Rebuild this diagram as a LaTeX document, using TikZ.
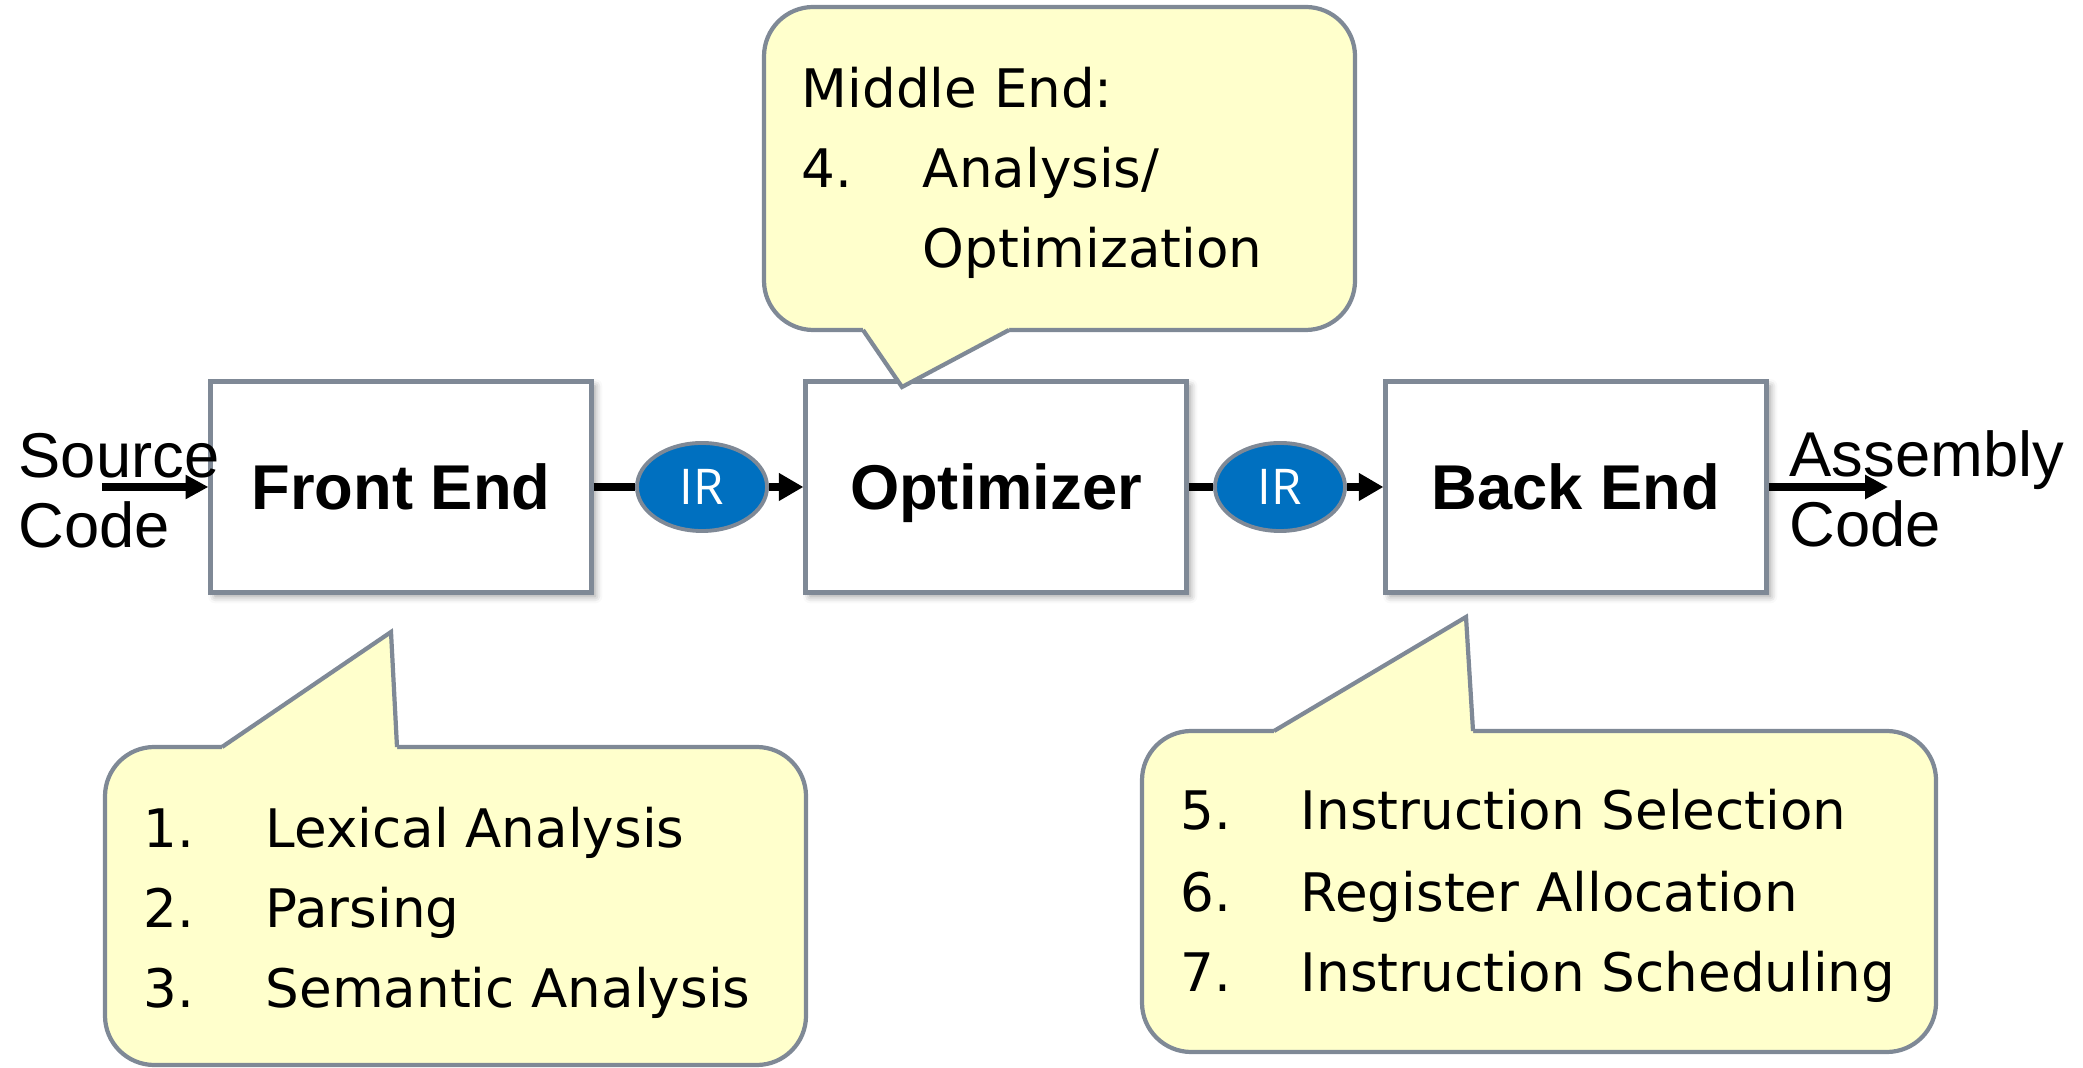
\documentclass[tikz,border=0pt]{standalone}
\usepackage{fontspec}
\setmainfont{DejaVu Sans}
\newfontfamily\labelfont{Liberation Sans}
\newfontfamily\irfont{Open Sans}
\usetikzlibrary{arrows.meta,shapes.geometric,shadows.blur}
\definecolor{edgegray}{RGB}{127,137,150}
\definecolor{noteyellow}{RGB}{255,255,204}
\definecolor{irblue}{RGB}{0,112,192}
\begin{document}
\begin{tikzpicture}[x=0.01cm,y=-0.01cm,
  stage/.style={draw=edgegray, line width=1.4pt, fill=white,
    minimum width=3.8cm, minimum height=2.1cm, inner sep=0pt, text depth=0pt,
    font=\labelfont\bfseries\fontsize{18}{21}\selectfont,
    blur shadow={shadow xshift=1.2pt, shadow yshift=-1.2pt,
      shadow blur radius=2pt, shadow opacity=40}},
  irnode/.style={ellipse, draw=edgegray, line width=1.1pt, fill=irblue,
    text=white, minimum width=1.3cm, minimum height=0.88cm, inner sep=0pt,
    font=\irfont\fontsize{14}{16}\selectfont},
  flow/.style={line width=2pt},
  flowarrow/.style={line width=2pt, -{Triangle[length=7pt,width=7.5pt]}},
  callout/.style={draw=edgegray, line width=1.2pt, fill=noteyellow,
    rounded corners=14pt},
  pointerfill/.style={fill=noteyellow},
  pointeredge/.style={draw=edgegray, line width=1.2pt, line join=miter},
  notetext/.style={anchor=base west, inner sep=0pt,
    font=\fontsize{15.1}{18}\selectfont},
  iotext/.style={anchor=base west, inner sep=0pt,
    font=\labelfont\fontsize{18}{21}\selectfont},
]
\useasboundingbox (0,0) rectangle (2083,1068);

% pipeline stages
\node[stage] (fe)  at (401,487)  {Front End};
\node[stage] (opt) at (996,487)  {Optimizer};
\node[stage] (be)  at (1576,487) {Back End};

% intermediate representations
\node[irnode] (ir1) at (702,487)  {IR};
\node[irnode] (ir2) at (1280,487) {IR};

% input and output labels
\node[iotext] (src1) at (18,478)   {Source};
\node[iotext] (src2) at (18,548)   {Code};
\node[iotext] (asm1) at (1789,477) {Assembly};
\node[iotext] (asm2) at (1789,547) {Code};

\coordinate (srcstart) at (102,487);
\coordinate (asmend) at (1888,487);

% connectors
\draw[flow,-{Triangle[length=6.5pt,width=6.5pt]}] (srcstart) -- (fe.west);
\draw[flow] (fe.east) -- (ir1.west);
\draw[flowarrow] (ir1.east) -- (opt.west);
\draw[flow] (opt.east) -- (ir2.west);
\draw[flowarrow] (ir2.east) -- (be.west);
\draw[flow,-{Triangle[length=6.5pt,width=6.5pt]}] (be.east) -- (asmend);

% middle-end callout: rounded body, then the pointer laid over its lower edge
\draw[callout] (764,7) rectangle (1355,330);
\fill[pointerfill] (863,325) -- (1009,325) -- (1009,330) -- (902,387)
  -- (863,330) -- cycle;
\draw[pointeredge] (863,330) -- (902,387) -- (1009,330);
\node[notetext] (mid0) at (801,108) {Middle End:};
\node[notetext] (mid1n) at (801,188) {4.};
\node[notetext] (mid1) at (922,188) {Analysis/};
\node[notetext] (mid2) at (922,268) {Optimization};

% front-end callout: pointer rises from the upper edge
\draw[callout] (105,747) rectangle (806,1065);
\fill[pointerfill] (222,752) -- (222,747) -- (391,632) -- (397,747)
  -- (397,752) -- cycle;
\draw[pointeredge] (222,747) -- (391,632) -- (397,747);
\node[notetext] (f1n) at (143,847)  {1.};
\node[notetext] (f1)  at (265,847)  {Lexical Analysis};
\node[notetext] (f2n) at (143,927)  {2.};
\node[notetext] (f2)  at (265,927)  {Parsing};
\node[notetext] (f3n) at (143,1007) {3.};
\node[notetext] (f3)  at (265,1007) {Semantic Analysis};

% back-end callout
\draw[callout] (1142,731) rectangle (1936,1052);
\fill[pointerfill] (1274,736) -- (1274,731) -- (1466,617) -- (1473,731)
  -- (1473,736) -- cycle;
\draw[pointeredge] (1274,731) -- (1466,617) -- (1473,731);
\node[notetext] (b1n) at (1180,830) {5.};
\node[notetext] (b1)  at (1300,830) {Instruction Selection};
\node[notetext] (b2n) at (1180,911) {6.};
\node[notetext] (b2)  at (1300,911) {Register Allocation};
\node[notetext] (b3n) at (1180,991) {7.};
\node[notetext] (b3)  at (1300,991) {Instruction Scheduling};
\end{tikzpicture}
\end{document}
